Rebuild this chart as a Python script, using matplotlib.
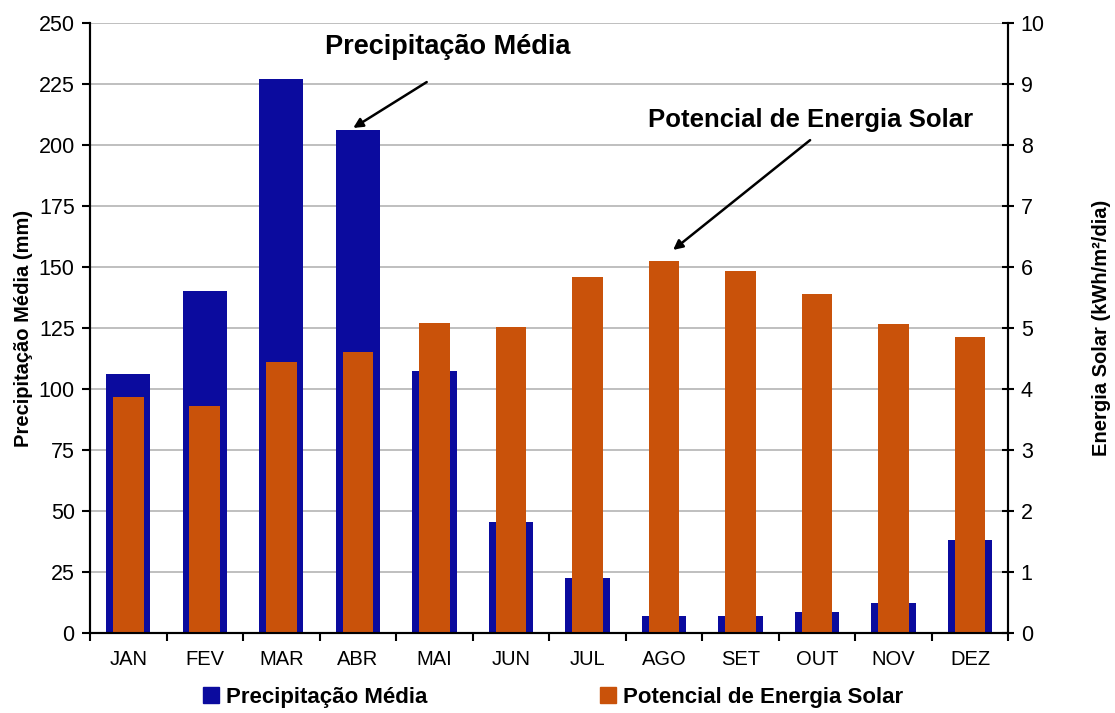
import matplotlib
matplotlib.use("Agg")
import matplotlib.pyplot as plt
from matplotlib.patches import Patch

plt.rcParams['font.family'] = ['Liberation Sans', 'DejaVu Sans']

months = ["JAN", "FEV", "MAR", "ABR", "MAI", "JUN",
          "JUL", "AGO", "SET", "OUT", "NOV", "DEZ"]
precip_mm = [106, 140, 227, 206, 107.5, 45.5, 22.5, 7, 7, 8.5, 12.5, 38]
solar_kwh = [3.87, 3.72, 4.44, 4.60, 5.08, 5.02, 5.84, 6.10, 5.94, 5.55, 5.06, 4.86]

blue = "#0b0b9e"
orange = "#c9520a"
grid_col = "#b4b4b4"

fig = plt.figure(figsize=(11.15, 7.13), dpi=100)
ax = fig.add_axes([0.0807, 0.1122, 0.8236, 0.8555])
ax2 = ax.twinx()

x = list(range(len(months)))
ax.bar(x, precip_mm, width=0.58, color=blue, zorder=2)
ax2.bar(x, solar_kwh, width=0.40, color=orange, zorder=2)

ax.set_xlim(-0.5, len(months) - 0.5)
ax.set_ylim(0, 250)
ax2.set_ylim(0, 10)
ax.set_yticks(range(0, 251, 25))
ax2.set_yticks(range(0, 11, 1))

ax.yaxis.grid(True, color=grid_col, linewidth=1.2, zorder=0)
ax.set_axisbelow(True)

ax.set_xticks(x)
ax.set_xticklabels(months, fontsize=14.5)
ax.set_xticks([i + 0.5 for i in range(-1, len(months))], minor=True)
ax.tick_params(axis='x', which='major', length=0, pad=12)
ax.tick_params(axis='x', which='minor', length=6, width=1.5, direction='out')
ax.tick_params(axis='y', labelsize=15.5, length=6, width=1.5, direction='out', pad=5)
ax2.tick_params(axis='y', labelsize=15.5, length=8, width=1.5, direction='inout', pad=5)

ax.spines["top"].set_visible(False)
ax2.spines["top"].set_visible(False)
for a in (ax, ax2):
    for s in ("left", "right", "bottom"):
        a.spines[s].set_linewidth(1.5)

ax.set_ylabel("Precipitação Média (mm)", fontsize=14.5, fontweight='bold', labelpad=4)
ax2.set_ylabel("Energia Solar (kWh/m²/dia)", fontsize=14.5, fontweight='bold', labelpad=34)

# callout for the rainfall series
ax.text(4.18, 240, "Precipitação Média", ha='center', va='center',
        fontsize=19.5, fontweight='bold')
ax.annotate("", xy=(2.94, 207), xytext=(3.9, 225.8),
            arrowprops=dict(arrowstyle='-|>', color='black', lw=1.8,
                            mutation_scale=14, shrinkA=0, shrinkB=0))

# callout for the solar series
ax2.text(8.92, 8.41, "Potencial de Energia Solar", ha='center', va='center',
         fontsize=18.5, fontweight='bold')
ax2.annotate("", xy=(7.12, 6.28), xytext=(8.91, 8.08),
             arrowprops=dict(arrowstyle='-|>', color='black', lw=1.8,
                             mutation_scale=14, shrinkA=0, shrinkB=0))

handles = [Patch(color=blue, label="Precipitação Média"),
           Patch(color=orange, label="Potencial de Energia Solar")]
fig.legend(handles=handles, loc='center', bbox_to_anchor=(0.496, 0.022), ncol=2,
           frameon=False, prop={'size': 16, 'weight': 'bold'},
           handlelength=0.7, handleheight=0.7, handletextpad=0.3,
           columnspacing=7.8, borderpad=0)

fig.savefig("out.png", dpi=100)
